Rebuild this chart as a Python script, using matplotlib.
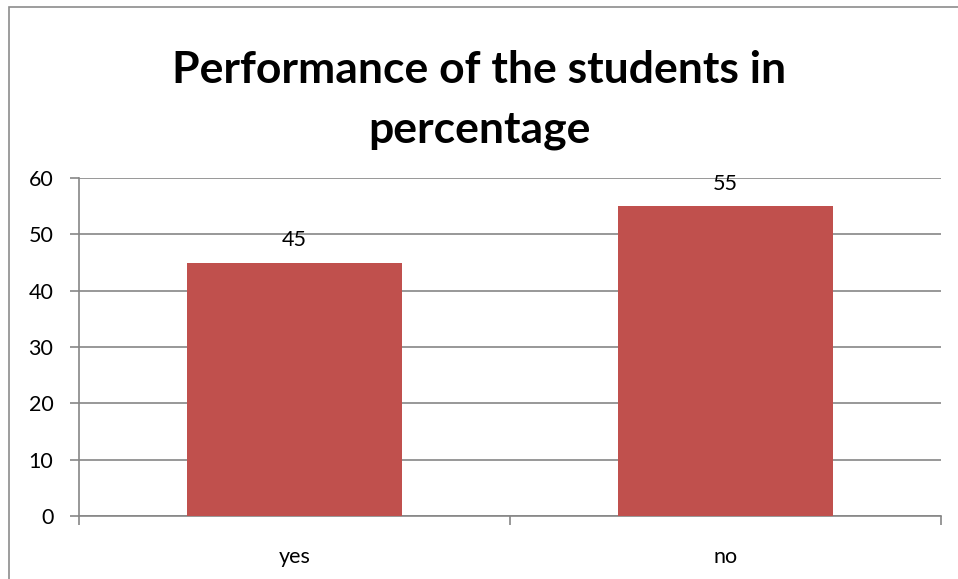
import matplotlib.pyplot as plt
from matplotlib.patches import Rectangle

plt.rcParams['font.family'] = ['Lato', 'DejaVu Sans']

categories = ['yes', 'no']
values = [45, 55]
title_lines = ['Performance of the students in', 'percentage']

bar_color = '#C0504D'
grid_color = '#868686'

fig = plt.figure(figsize=(9.58, 5.79), dpi=100)
W, H = 958, 579

# chart frame (only the top/left edges fall inside the image)
fig.patches.append(Rectangle((9 / W, -0.1), 1.2, (H - 7) / H + 0.1,
                             transform=fig.transFigure, fill=False,
                             edgecolor='#8c8c8c', linewidth=1.2))

ax = fig.add_axes([79 / W, (H - 516) / H, (941 - 79) / W, (516 - 178) / H])

x = [i + 0.5 for i in range(len(categories))]
bars = ax.bar(x, values, width=0.5, color=bar_color, zorder=3)
for b, v in zip(bars, values):
    ax.annotate(str(v), (b.get_x() + b.get_width() / 2, v),
                xytext=(0, 9), textcoords='offset points',
                ha='center', va='bottom', fontsize=15.5)

ax.set_xlim(0, len(categories))
ax.set_ylim(0, 60)
ax.set_yticks(range(0, 61, 10))
ax.yaxis.grid(True, color=grid_color, linewidth=1.2, zorder=0)

ax.set_xticks(range(len(categories) + 1))
ax.set_xticklabels([])
ax.set_xticks(x, minor=True)
ax.set_xticklabels(categories, minor=True)
ax.tick_params(axis='x', which='minor', length=0, pad=22, labelsize=15.5)
ax.tick_params(axis='x', which='major', length=6.5, width=1.2, color=grid_color)
ax.tick_params(axis='y', length=6.5, width=1.2, color=grid_color, labelsize=15.5, pad=12)

for s in ['top', 'right']:
    ax.spines[s].set_visible(False)
for s in ['left', 'bottom']:
    ax.spines[s].set_color(grid_color)
    ax.spines[s].set_linewidth(1.2)

fig.text(0.5, 1 - 83 / H, title_lines[0], ha='center', va='baseline',
         fontsize=32, fontweight='bold')
fig.text(0.5, 1 - 143 / H, title_lines[1], ha='center', va='baseline',
         fontsize=32, fontweight='bold')

fig.savefig('out.png', dpi=100)
